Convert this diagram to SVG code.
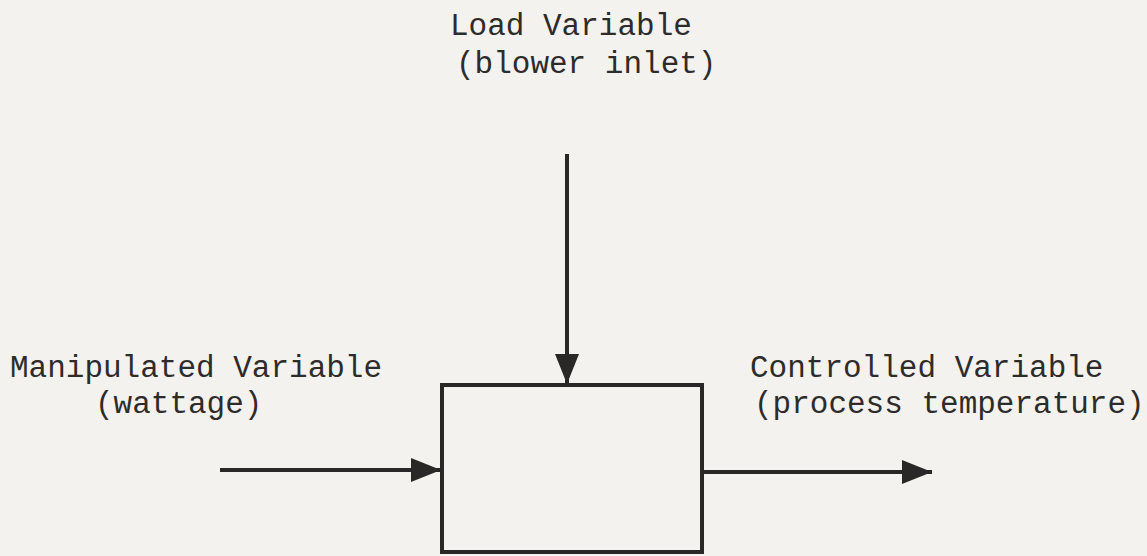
<svg xmlns="http://www.w3.org/2000/svg" width="1147" height="556" viewBox="0 0 1147 556">
<style>
.t{font-family:"Liberation Mono","DejaVu Sans Mono",monospace;font-size:31px;fill:#2e2c2a}
.ln{stroke:#2a2826;stroke-width:4;fill:none}
</style>
<defs>
<marker id="ah" markerUnits="userSpaceOnUse" markerWidth="34" markerHeight="30" refX="32" refY="15" orient="auto">
<path d="M2,3 L32,15 L2,27 Z" fill="#2a2826"/>
</marker>
</defs>
<rect width="1147" height="556" fill="#f4f2ef"/>
<g id="process">
<rect class="ln" x="442" y="385" width="260" height="167"/>
</g>
<g id="load">
<text class="t" x="450" y="35">Load Variable</text>
<text class="t" x="456" y="73">(blower inlet)</text>
</g>
<g id="manipulated">
<text class="t" x="10" y="377">Manipulated Variable</text>
<text class="t" x="95" y="413">(wattage)</text>
</g>
<g id="controlled">
<text class="t" x="750" y="377">Controlled Variable</text>
<text class="t" x="754" y="413">(process temperature)</text>
</g>
<g id="connectors">
<line class="ln" x1="567" y1="154" x2="567" y2="384" marker-end="url(#ah)"/>
<line class="ln" x1="220" y1="470" x2="441" y2="470" marker-end="url(#ah)"/>
<line class="ln" x1="703" y1="472" x2="932" y2="472" marker-end="url(#ah)"/>
</g>
</svg>
